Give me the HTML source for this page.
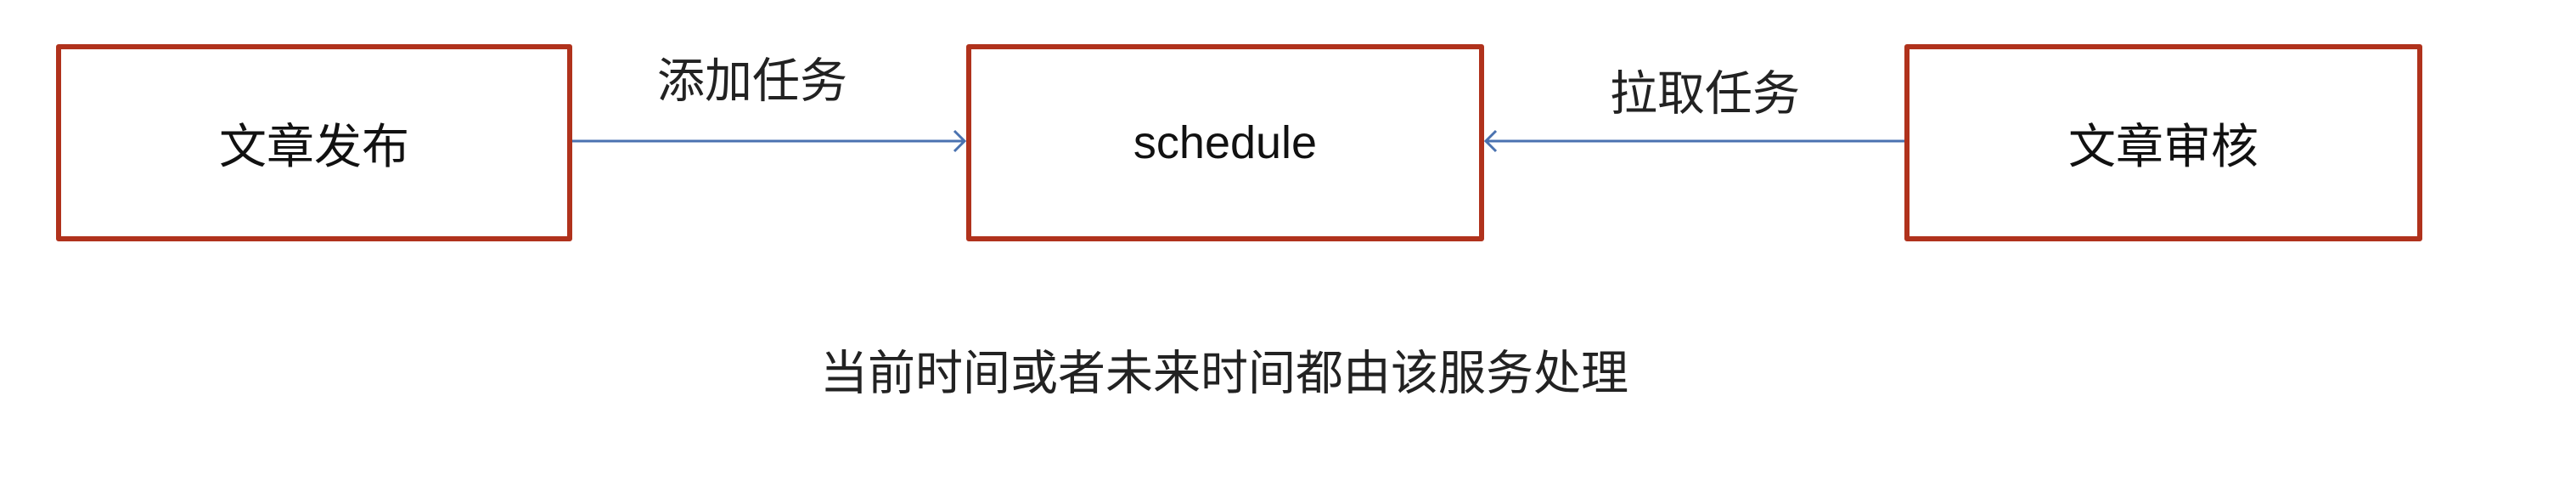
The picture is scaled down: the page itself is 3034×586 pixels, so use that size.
<!DOCTYPE html>
<html><head><meta charset="utf-8"><style>
html,body{margin:0;padding:0;background:#fff;}
body{width:3034px;height:586px;position:relative;overflow:hidden;font-family:"Liberation Sans","Noto Sans CJK SC",sans-serif;}
.box{position:absolute;top:52px;height:220px;border:6px solid #b0321c;border-radius:3px;display:flex;align-items:center;justify-content:center;font-size:56px;color:#111;box-sizing:content-box;}
.lbl{position:absolute;font-size:56px;color:#222;transform:translate(-50%,-50%);white-space:nowrap;}
</style></head><body>
<div class="box" style="left:66px;width:596px;">文章发布</div>
<div class="box" style="left:1138px;width:598px;font-size:54px;">schedule</div>
<div class="box" style="left:2243px;width:598px;">文章审核</div>
<svg width="3034" height="586" style="position:absolute;left:0;top:0">
<line x1="674" y1="166" x2="1136" y2="166" stroke="#4a72b0" stroke-width="3"/>
<polyline points="1124,154 1136,166 1124,178" fill="none" stroke="#4a72b0" stroke-width="3"/>
<line x1="1750" y1="166" x2="2243" y2="166" stroke="#4a72b0" stroke-width="3"/>
<polyline points="1762,154 1750,166 1762,178" fill="none" stroke="#4a72b0" stroke-width="3"/>
</svg>
<div class="lbl" style="left:886px;top:91px;">添加任务</div>
<div class="lbl" style="left:2008px;top:106px;">拉取任务</div>
<div class="lbl" style="left:1442px;top:435px;">当前时间或者未来时间都由该服务处理</div>
</body></html>
